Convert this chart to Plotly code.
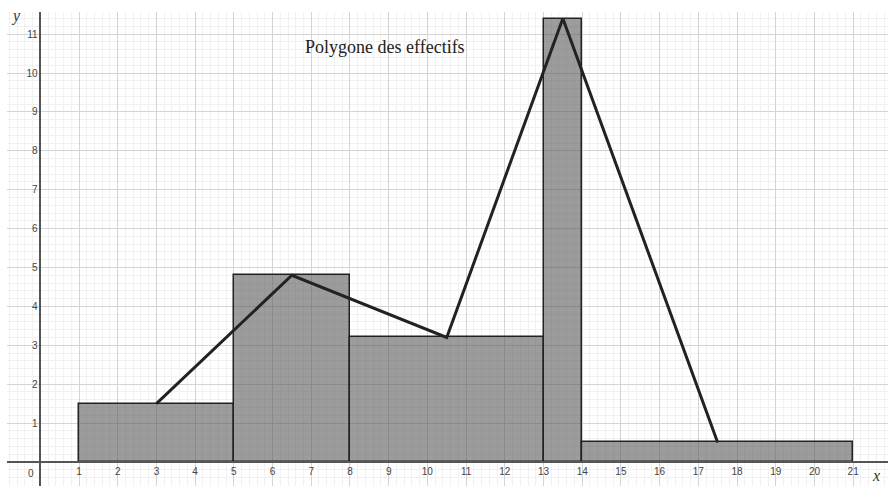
import plotly.graph_objects as go

# Class boundaries and heights of the histogram
class_edges = [1, 5, 8, 13, 14, 21]
heights = [1.5, 4.8, 3.2, 11.4, 0.5]

x_ticks = list(range(0, 22))
y_ticks = list(range(0, 12))

x_range = [-0.86, 21.9]
y_range = [-0.62, 11.57]

mids = [(a + b) / 2 for a, b in zip(class_edges[:-1], class_edges[1:])]
widths = [b - a for a, b in zip(class_edges[:-1], class_edges[1:])]

fig = go.Figure()

fig.add_trace(go.Bar(
    x=mids, y=heights, width=widths,
    marker=dict(color="rgba(85,85,85,0.58)", line=dict(color="#222222", width=1.5)),
    hoverinfo="skip",
))

# Frequency polygon through the class midpoints
fig.add_trace(go.Scatter(
    x=mids, y=heights, mode="lines",
    line=dict(color="#222222", width=3),
    hoverinfo="skip",
))

tick_font = dict(family="Liberation Sans, Arial, sans-serif", size=10, color="#444444")

x_pos = (0 - y_range[0]) / (y_range[1] - y_range[0])
y_pos = (0 - x_range[0]) / (x_range[1] - x_range[0])

fig.update_layout(
    width=888, height=486,
    margin=dict(l=7, r=0, t=12, b=0),
    plot_bgcolor="white", paper_bgcolor="white",
    showlegend=False,
    bargap=0,
    xaxis=dict(
        range=x_range, domain=[0, 1],
        tickvals=x_ticks, ticktext=[""] + [str(v) for v in x_ticks[1:]],
        showgrid=True, gridcolor="#d4d4d4", gridwidth=1,
        minor=dict(dtick=0.2, tick0=0, showgrid=True, gridcolor="#f1f1f1", gridwidth=1),
        zeroline=False,
        showline=True, linecolor="#555555", linewidth=1.5,
        anchor="free", position=x_pos,
        ticks="", tickfont=tick_font,
    ),
    yaxis=dict(
        range=y_range, domain=[0, 1],
        tickvals=y_ticks, ticktext=[""] + [str(v) for v in y_ticks[1:]],
        showgrid=True, gridcolor="#d4d4d4", gridwidth=1,
        minor=dict(dtick=0.2, tick0=0, showgrid=True, gridcolor="#f1f1f1", gridwidth=1),
        zeroline=False,
        showline=True, linecolor="#555555", linewidth=1.5,
        anchor="free", position=y_pos,
        ticks="", tickfont=tick_font,
    ),
    annotations=[
        dict(x=0, y=0, xref="x", yref="y", text="0", showarrow=False,
             xanchor="right", yanchor="top", xshift=-4, yshift=-4, font=tick_font),
        dict(x=8.9, y=10.68, xref="x", yref="y", text="Polygone des effectifs",
             showarrow=False, font=dict(family="Liberation Serif, Times New Roman, serif",
                                        size=18, color="#222222")),
        dict(x=x_range[1], y=0, xref="x", yref="y", text="<i>x</i>", showarrow=False,
             xanchor="right", yanchor="top", xshift=-6, yshift=-3,
             font=dict(family="Liberation Serif, Times New Roman, serif", size=16, color="#333333")),
        dict(x=x_range[0], y=y_range[1], xref="x", yref="y", text="<i>y</i>", showarrow=False,
             xanchor="left", yanchor="middle", xshift=2, yshift=-4,
             font=dict(family="Liberation Serif, Times New Roman, serif", size=16, color="#333333")),
    ],
)

fig.write_html("out.html")
